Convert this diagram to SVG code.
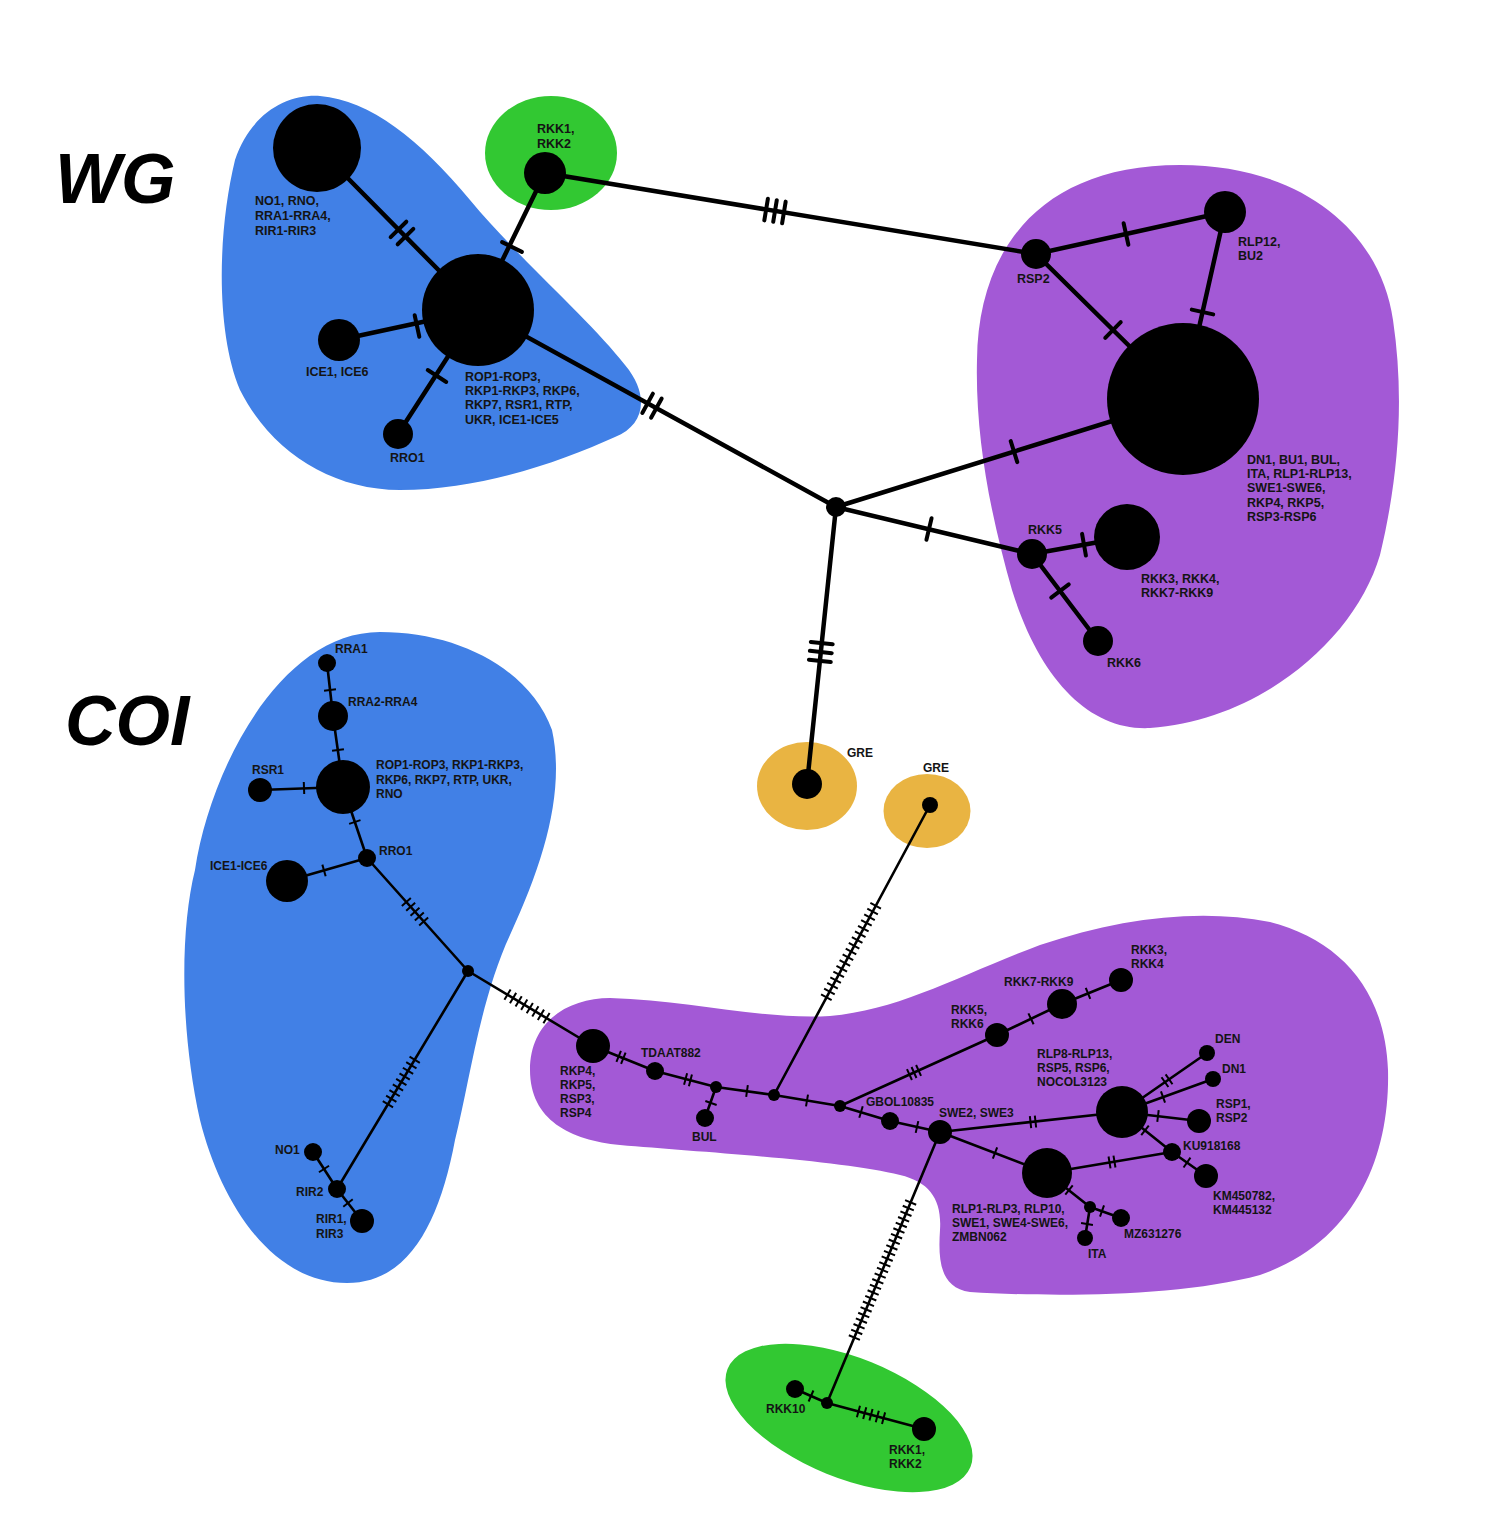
<svg xmlns="http://www.w3.org/2000/svg" xmlns:xlink="http://www.w3.org/1999/xlink" width="1512" height="1538" viewBox="0 0 1512 1538">
<style>
.bg{fill:#ffffff}
.blue{fill:#4180E6}
.purple{fill:#A359D6}
.green{fill:#32C832}
.orange{fill:#E9B442}
.ew{stroke:#000;stroke-width:4.5;stroke-linecap:round}
.ec{stroke:#000;stroke-width:2.6;stroke-linecap:round}
.tw{stroke:#000;stroke-width:4;fill:none;stroke-linecap:round}
.tc{stroke:#000;stroke-width:2;fill:none}
.n{fill:#000}
.lw{font-family:"Liberation Sans",Arial,sans-serif;font-weight:bold;font-size:12.5px;fill:#141414}
.lc{font-family:"Liberation Sans",Arial,sans-serif;font-weight:bold;font-size:12px;fill:#141414}
.title{font-family:"Liberation Sans",Arial,sans-serif;font-weight:bold;font-style:italic;font-size:70px;fill:#000}
</style>
<defs>
<path id="w1" class="tw" d="M0,-11V11"/>
<path id="w2" class="tw" d="M-5,-11V11M5,-11V11"/>
<path id="w3" class="tw" d="M-9,-11V11M0,-11V11M9,-11V11"/>
<path id="c1" class="tc" d="M0,-6V6"/>
<path id="c2" class="tc" d="M-2.5,-6V6M2.5,-6V6"/>
<path id="c3" class="tc" d="M-5,-6V6M0,-6V6M5,-6V6"/>
<path id="c5" class="tc" d="M-13,-6V6M-6.5,-6V6M0,-6V6M6.5,-6V6M13,-6V6"/>
<path id="c8" class="tc" d="M-22.75,-6V6M-16.25,-6V6M-9.75,-6V6M-3.25,-6V6M3.25,-6V6M9.75,-6V6M16.25,-6V6M22.75,-6V6"/>
<path id="c9" class="tc" d="M-26,-6V6M-19.5,-6V6M-13,-6V6M-6.5,-6V6M0,-6V6M6.5,-6V6M13,-6V6M19.5,-6V6M26,-6V6"/>
<path id="c17" class="tc" d="M-52,-6V6M-45.5,-6V6M-39,-6V6M-32.5,-6V6M-26,-6V6M-19.5,-6V6M-13,-6V6M-6.5,-6V6M0,-6V6M6.5,-6V6M13,-6V6M19.5,-6V6M26,-6V6M32.5,-6V6M39,-6V6M45.5,-6V6M52,-6V6"/>
<path id="c25" class="tc" d="M-73.2,-6V6M-67.1,-6V6M-61,-6V6M-54.9,-6V6M-48.8,-6V6M-42.7,-6V6M-36.6,-6V6M-30.5,-6V6M-24.4,-6V6M-18.3,-6V6M-12.2,-6V6M-6.1,-6V6M0,-6V6M6.1,-6V6M12.2,-6V6M18.3,-6V6M24.4,-6V6M30.5,-6V6M36.6,-6V6M42.7,-6V6M48.8,-6V6M54.9,-6V6M61,-6V6M67.1,-6V6M73.2,-6V6"/>
</defs>
<rect class="bg" x="0" y="0" width="1512" height="1538"/>

<g id="regions">
<path id="wg-blue" class="blue" d="M320,96 C370,100 420,140 470,200 C520,260 590,320 625,365 C650,395 645,425 615,437 C560,462 480,490 400,490 C330,490 270,450 240,390 C215,330 218,230 235,160 C250,115 285,94 320,96 Z"/>
<ellipse id="wg-green" class="green" cx="551" cy="153" rx="66" ry="57"/>
<path id="wg-purple" class="purple" d="M1180,165 C1300,165 1380,230 1393,320 C1405,400 1398,480 1380,555 C1355,640 1260,720 1150,728 C1090,731 1040,680 1012,590 C992,520 975,440 977,360 C978,250 1040,165 1180,165 Z"/>
<ellipse id="wg-orange" class="orange" cx="807" cy="786" rx="50" ry="44"/>
<path id="coi-blue" class="blue" d="M380,632 C460,632 530,670 552,730 C565,790 545,860 510,935 C480,1000 470,1080 455,1140 C440,1220 410,1283 347,1283 C270,1283 220,1200 200,1120 C180,1030 180,930 195,870 C210,770 280,632 380,632 Z"/>
<path id="coi-purple" class="purple" d="M530,1070 C530,1020 570,998 610,998 C690,1000 760,1020 830,1016 C900,1010 960,975 1040,945 C1120,918 1200,908 1270,922 C1340,940 1385,990 1388,1070 C1390,1150 1360,1240 1260,1275 C1180,1297 1050,1297 970,1292 C940,1288 938,1260 940,1230 C942,1200 930,1182 900,1175 C840,1160 700,1152 620,1145 C570,1140 530,1120 530,1070 Z"/>
<ellipse id="coi-orange" class="orange" cx="927" cy="811" rx="43.5" ry="37"/>
<ellipse id="coi-green" class="green" cx="849" cy="1418" rx="131" ry="60" transform="rotate(22 849 1418)"/>
</g>

<text class="title" x="55" y="203">WG</text>
<text class="title" x="65" y="745">COI</text>

<g id="connectors">
<line class="ew" x1="317" y1="147" x2="478" y2="310"/>
<line class="ew" x1="545" y1="173" x2="478" y2="310"/>
<line class="ew" x1="339" y1="340" x2="478" y2="310"/>
<line class="ew" x1="398" y1="434" x2="478" y2="310"/>
<line class="ew" x1="478" y1="310" x2="836" y2="507"/>
<line class="ew" x1="545" y1="173" x2="1036" y2="254"/>
<line class="ew" x1="1036" y1="254" x2="1225" y2="212"/>
<line class="ew" x1="1036" y1="254" x2="1183" y2="399"/>
<line class="ew" x1="1225" y1="212" x2="1183" y2="399"/>
<line class="ew" x1="836" y1="507" x2="1183" y2="399"/>
<line class="ew" x1="836" y1="507" x2="1032" y2="554"/>
<line class="ew" x1="1032" y1="554" x2="1127" y2="537"/>
<line class="ew" x1="1032" y1="554" x2="1098" y2="641"/>
<line class="ew" x1="836" y1="507" x2="807" y2="784"/>

<line class="ec" x1="327" y1="663" x2="333" y2="716"/>
<line class="ec" x1="333" y1="716" x2="343" y2="787"/>
<line class="ec" x1="260" y1="790" x2="343" y2="787"/>
<line class="ec" x1="343" y1="787" x2="367" y2="858"/>
<line class="ec" x1="367" y1="858" x2="287" y2="881"/>
<line class="ec" x1="367" y1="858" x2="468" y2="971"/>
<line class="ec" x1="468" y1="971" x2="593" y2="1046"/>
<line class="ec" x1="468" y1="971" x2="337" y2="1189"/>
<line class="ec" x1="313" y1="1152" x2="337" y2="1189"/>
<line class="ec" x1="337" y1="1189" x2="362" y2="1221"/>
<line class="ec" x1="593" y1="1046" x2="655" y2="1071"/>
<line class="ec" x1="655" y1="1071" x2="716" y2="1087"/>
<line class="ec" x1="716" y1="1087" x2="705" y2="1118"/>
<line class="ec" x1="716" y1="1087" x2="774" y2="1095"/>
<line class="ec" x1="774" y1="1095" x2="930" y2="805"/>
<line class="ec" x1="774" y1="1095" x2="840" y2="1106"/>
<line class="ec" x1="840" y1="1106" x2="890" y2="1121"/>
<line class="ec" x1="840" y1="1106" x2="997" y2="1035"/>
<line class="ec" x1="890" y1="1121" x2="940" y2="1132"/>
<line class="ec" x1="997" y1="1035" x2="1062" y2="1004"/>
<line class="ec" x1="1062" y1="1004" x2="1121" y2="980"/>
<line class="ec" x1="940" y1="1132" x2="1122" y2="1112"/>
<line class="ec" x1="940" y1="1132" x2="1047" y2="1173"/>
<line class="ec" x1="940" y1="1132" x2="827" y2="1403"/>
<line class="ec" x1="1122" y1="1112" x2="1207" y2="1053"/>
<line class="ec" x1="1122" y1="1112" x2="1213" y2="1079"/>
<line class="ec" x1="1122" y1="1112" x2="1199" y2="1121"/>
<line class="ec" x1="1122" y1="1112" x2="1172" y2="1152"/>
<line class="ec" x1="1047" y1="1173" x2="1172" y2="1152"/>
<line class="ec" x1="1172" y1="1152" x2="1206" y2="1176"/>
<line class="ec" x1="1047" y1="1173" x2="1090" y2="1207"/>
<line class="ec" x1="1090" y1="1207" x2="1121" y2="1218"/>
<line class="ec" x1="1090" y1="1207" x2="1085" y2="1238"/>
<line class="ec" x1="827" y1="1403" x2="795" y2="1389"/>
<line class="ec" x1="827" y1="1403" x2="924" y2="1429"/>

<g id="ticks">
<use xlink:href="#w2" transform="translate(402,233) rotate(45.4)"/>
<use xlink:href="#w1" transform="translate(512,247) rotate(116.1)"/>
<use xlink:href="#w1" transform="translate(417,326) rotate(-12.2)"/>
<use xlink:href="#w1" transform="translate(437,376) rotate(-57.2)"/>
<use xlink:href="#w2" transform="translate(652,405.7) rotate(28.8)"/>
<use xlink:href="#w3" transform="translate(775,211) rotate(9.4)"/>
<use xlink:href="#w1" transform="translate(1126,234) rotate(-12.5)"/>
<use xlink:href="#w1" transform="translate(1113,330) rotate(44.6)"/>
<use xlink:href="#w1" transform="translate(1202.5,312) rotate(102.7)"/>
<use xlink:href="#w1" transform="translate(1014,451.6) rotate(-17.3)"/>
<use xlink:href="#w1" transform="translate(929,529) rotate(13.5)"/>
<use xlink:href="#w1" transform="translate(1084,544.7) rotate(-10.1)"/>
<use xlink:href="#w1" transform="translate(1060,591) rotate(52.8)"/>
<use xlink:href="#w3" transform="translate(820.8,652) rotate(96)"/>

<use xlink:href="#c1" transform="translate(330,690) rotate(83.5)"/>
<use xlink:href="#c1" transform="translate(338,750) rotate(82)"/>
<use xlink:href="#c1" transform="translate(304,788) rotate(-2.1)"/>
<use xlink:href="#c1" transform="translate(354.8,822) rotate(71.3)"/>
<use xlink:href="#c1" transform="translate(324,870.4) rotate(164)"/>
<use xlink:href="#c5" transform="translate(415,911.7) rotate(48.2)"/>
<use xlink:href="#c8" transform="translate(527,1006.4) rotate(31)"/>
<use xlink:href="#c9" transform="translate(401.3,1082) rotate(121)"/>
<use xlink:href="#c1" transform="translate(324,1169) rotate(57)"/>
<use xlink:href="#c1" transform="translate(348,1203) rotate(52)"/>
<use xlink:href="#c2" transform="translate(621,1057.3) rotate(22)"/>
<use xlink:href="#c2" transform="translate(688,1079.7) rotate(14.7)"/>
<use xlink:href="#c1" transform="translate(711,1103) rotate(109.5)"/>
<use xlink:href="#c1" transform="translate(747,1091) rotate(7.9)"/>
<use xlink:href="#c17" transform="translate(851,951.5) rotate(-61.7)"/>
<use xlink:href="#c1" transform="translate(807,1100.5) rotate(9.5)"/>
<use xlink:href="#c1" transform="translate(861,1112) rotate(16.7)"/>
<use xlink:href="#c3" transform="translate(914,1072.5) rotate(-24.3)"/>
<use xlink:href="#c1" transform="translate(917,1127) rotate(12.4)"/>
<use xlink:href="#c1" transform="translate(1031,1018.8) rotate(-25.5)"/>
<use xlink:href="#c1" transform="translate(1088,993.4) rotate(-22.1)"/>
<use xlink:href="#c2" transform="translate(1033,1121.8) rotate(-6.3)"/>
<use xlink:href="#c1" transform="translate(995,1153) rotate(21)"/>
<use xlink:href="#c25" transform="translate(882.5,1270) rotate(112.6)"/>
<use xlink:href="#c2" transform="translate(1167,1080.7) rotate(-34.8)"/>
<use xlink:href="#c1" transform="translate(1163,1097) rotate(-19.9)"/>
<use xlink:href="#c1" transform="translate(1158,1116) rotate(6.7)"/>
<use xlink:href="#c1" transform="translate(1145,1130.4) rotate(38.7)"/>
<use xlink:href="#c2" transform="translate(1112,1162) rotate(-9.5)"/>
<use xlink:href="#c1" transform="translate(1187,1162.6) rotate(35.2)"/>
<use xlink:href="#c1" transform="translate(1069,1190) rotate(38.3)"/>
<use xlink:href="#c1" transform="translate(1102,1211) rotate(19.5)"/>
<use xlink:href="#c1" transform="translate(1087,1224) rotate(99.2)"/>
<use xlink:href="#c1" transform="translate(811,1396) rotate(23.6)"/>
<use xlink:href="#c5" transform="translate(871,1414.8) rotate(15)"/>
</g>
</g>

<g id="wg-nodes">
<g id="wg-no1"><circle class="n" cx="317" cy="148" r="44"/><text class="lw" x="255" y="205">NO1, RNO,</text><text class="lw" x="255" y="220">RRA1-RRA4,</text><text class="lw" x="255" y="235">RIR1-RIR3</text></g>
<g id="wg-rop"><circle class="n" cx="478" cy="310" r="56"/><text class="lw" x="465" y="381">ROP1-ROP3,</text><text class="lw" x="465" y="395">RKP1-RKP3, RKP6,</text><text class="lw" x="465" y="409">RKP7, RSR1, RTP,</text><text class="lw" x="465" y="424">UKR, ICE1-ICE5</text></g>
<g id="wg-ice"><circle class="n" cx="339" cy="340" r="21"/><text class="lw" x="306" y="376">ICE1, ICE6</text></g>
<g id="wg-rro1"><circle class="n" cx="398" cy="434" r="15"/><text class="lw" x="390" y="462">RRO1</text></g>
<g id="wg-rkk1"><circle class="n" cx="545" cy="173" r="21"/><text class="lw" x="537" y="133">RKK1,</text><text class="lw" x="537" y="148">RKK2</text></g>
<g id="wg-rsp2"><circle class="n" cx="1036" cy="254" r="15"/><text class="lw" x="1017" y="283">RSP2</text></g>
<g id="wg-rlp12"><circle class="n" cx="1225" cy="212" r="21"/><text class="lw" x="1238" y="246">RLP12,</text><text class="lw" x="1238" y="260">BU2</text></g>
<g id="wg-dn1"><circle class="n" cx="1183" cy="399" r="76"/><text class="lw" x="1247" y="464">DN1, BU1, BUL,</text><text class="lw" x="1247" y="478">ITA, RLP1-RLP13,</text><text class="lw" x="1247" y="492">SWE1-SWE6,</text><text class="lw" x="1247" y="507">RKP4, RKP5,</text><text class="lw" x="1247" y="521">RSP3-RSP6</text></g>
<g id="wg-hub"><circle class="n" cx="836" cy="507" r="10"/></g>
<g id="wg-rkk5"><circle class="n" cx="1032" cy="554" r="15"/><text class="lw" x="1028" y="534">RKK5</text></g>
<g id="wg-rkk3"><circle class="n" cx="1127" cy="537" r="33"/><text class="lw" x="1141" y="583">RKK3, RKK4,</text><text class="lw" x="1141" y="597">RKK7-RKK9</text></g>
<g id="wg-rkk6"><circle class="n" cx="1098" cy="641" r="15"/><text class="lw" x="1107" y="667">RKK6</text></g>
<g id="wg-gre"><circle class="n" cx="807" cy="784" r="15"/><text class="lc" x="847" y="757">GRE</text></g>
</g>

<g id="coi-nodes">
<g id="coi-rra1"><circle class="n" cx="327" cy="663" r="9"/><text class="lc" x="335" y="653">RRA1</text></g>
<g id="coi-rra2"><circle class="n" cx="333" cy="716" r="15"/><text class="lc" x="348" y="706">RRA2-RRA4</text></g>
<g id="coi-rop"><circle class="n" cx="343" cy="787" r="27"/><text class="lc" x="376" y="769">ROP1-ROP3, RKP1-RKP3,</text><text class="lc" x="376" y="784">RKP6, RKP7, RTP, UKR,</text><text class="lc" x="376" y="798">RNO</text></g>
<g id="coi-rsr1"><circle class="n" cx="260" cy="790" r="12"/><text class="lc" x="252" y="774">RSR1</text></g>
<g id="coi-rro1"><circle class="n" cx="367" cy="858" r="9"/><text class="lc" x="379" y="855">RRO1</text></g>
<g id="coi-ice"><circle class="n" cx="287" cy="881" r="21"/><text class="lc" x="210" y="870">ICE1-ICE6</text></g>
<g id="coi-hub1"><circle class="n" cx="468" cy="971" r="6"/></g>
<g id="coi-no1"><circle class="n" cx="313" cy="1152" r="9"/><text class="lc" x="275" y="1154">NO1</text></g>
<g id="coi-rir2"><circle class="n" cx="337" cy="1189" r="9"/><text class="lc" x="296" y="1196">RIR2</text></g>
<g id="coi-rir1"><circle class="n" cx="362" cy="1221" r="12"/><text class="lc" x="316" y="1223">RIR1,</text><text class="lc" x="316" y="1238">RIR3</text></g>
<g id="coi-rkp4"><circle class="n" cx="593" cy="1046" r="17"/><text class="lc" x="560" y="1075">RKP4,</text><text class="lc" x="560" y="1089">RKP5,</text><text class="lc" x="560" y="1103">RSP3,</text><text class="lc" x="560" y="1117">RSP4</text></g>
<g id="coi-tdaat"><circle class="n" cx="655" cy="1071" r="9"/><text class="lc" x="641" y="1057">TDAAT882</text></g>
<g id="coi-j1"><circle class="n" cx="716" cy="1087" r="6"/></g>
<g id="coi-bul"><circle class="n" cx="705" cy="1118" r="9"/><text class="lc" x="692" y="1141">BUL</text></g>
<g id="coi-j2"><circle class="n" cx="774" cy="1095" r="6"/></g>
<g id="coi-j3"><circle class="n" cx="840" cy="1106" r="6"/></g>
<g id="coi-gbol"><circle class="n" cx="890" cy="1121" r="9"/><text class="lc" x="866" y="1106">GBOL10835</text></g>
<g id="coi-swe2"><circle class="n" cx="940" cy="1132" r="12"/><text class="lc" x="939" y="1117">SWE2, SWE3</text></g>
<g id="coi-rkk5"><circle class="n" cx="997" cy="1035" r="12"/><text class="lc" x="951" y="1014">RKK5,</text><text class="lc" x="951" y="1028">RKK6</text></g>
<g id="coi-rkk7"><circle class="n" cx="1062" cy="1004" r="15"/><text class="lc" x="1004" y="986">RKK7-RKK9</text></g>
<g id="coi-rkk3"><circle class="n" cx="1121" cy="980" r="12"/><text class="lc" x="1131" y="954">RKK3,</text><text class="lc" x="1131" y="968">RKK4</text></g>
<g id="coi-rlp8"><circle class="n" cx="1122" cy="1112" r="26"/><text class="lc" x="1037" y="1058">RLP8-RLP13,</text><text class="lc" x="1037" y="1072">RSP5, RSP6,</text><text class="lc" x="1037" y="1086">NOCOL3123</text></g>
<g id="coi-den"><circle class="n" cx="1207" cy="1053" r="8"/><text class="lc" x="1215" y="1043">DEN</text></g>
<g id="coi-dn1"><circle class="n" cx="1213" cy="1079" r="8"/><text class="lc" x="1222" y="1073">DN1</text></g>
<g id="coi-rsp1"><circle class="n" cx="1199" cy="1121" r="12"/><text class="lc" x="1216" y="1108">RSP1,</text><text class="lc" x="1216" y="1122">RSP2</text></g>
<g id="coi-ku"><circle class="n" cx="1172" cy="1152" r="9"/><text class="lc" x="1183" y="1150">KU918168</text></g>
<g id="coi-km"><circle class="n" cx="1206" cy="1176" r="12"/><text class="lc" x="1213" y="1200">KM450782,</text><text class="lc" x="1213" y="1214">KM445132</text></g>
<g id="coi-rlp1"><circle class="n" cx="1047" cy="1173" r="25"/><text class="lc" x="952" y="1213">RLP1-RLP3, RLP10,</text><text class="lc" x="952" y="1227">SWE1, SWE4-SWE6,</text><text class="lc" x="952" y="1241">ZMBN062</text></g>
<g id="coi-j4"><circle class="n" cx="1090" cy="1207" r="6"/></g>
<g id="coi-mz"><circle class="n" cx="1121" cy="1218" r="9"/><text class="lc" x="1124" y="1238">MZ631276</text></g>
<g id="coi-ita"><circle class="n" cx="1085" cy="1238" r="8"/><text class="lc" x="1088" y="1258">ITA</text></g>
<g id="coi-gre"><circle class="n" cx="930" cy="805" r="8"/><text class="lc" x="923" y="772">GRE</text></g>
<g id="coi-j5"><circle class="n" cx="827" cy="1403" r="6"/></g>
<g id="coi-rkk10"><circle class="n" cx="795" cy="1389" r="9"/><text class="lc" x="766" y="1413">RKK10</text></g>
<g id="coi-rkk1"><circle class="n" cx="924" cy="1429" r="12"/><text class="lc" x="889" y="1454">RKK1,</text><text class="lc" x="889" y="1468">RKK2</text></g>
</g>
</svg>
